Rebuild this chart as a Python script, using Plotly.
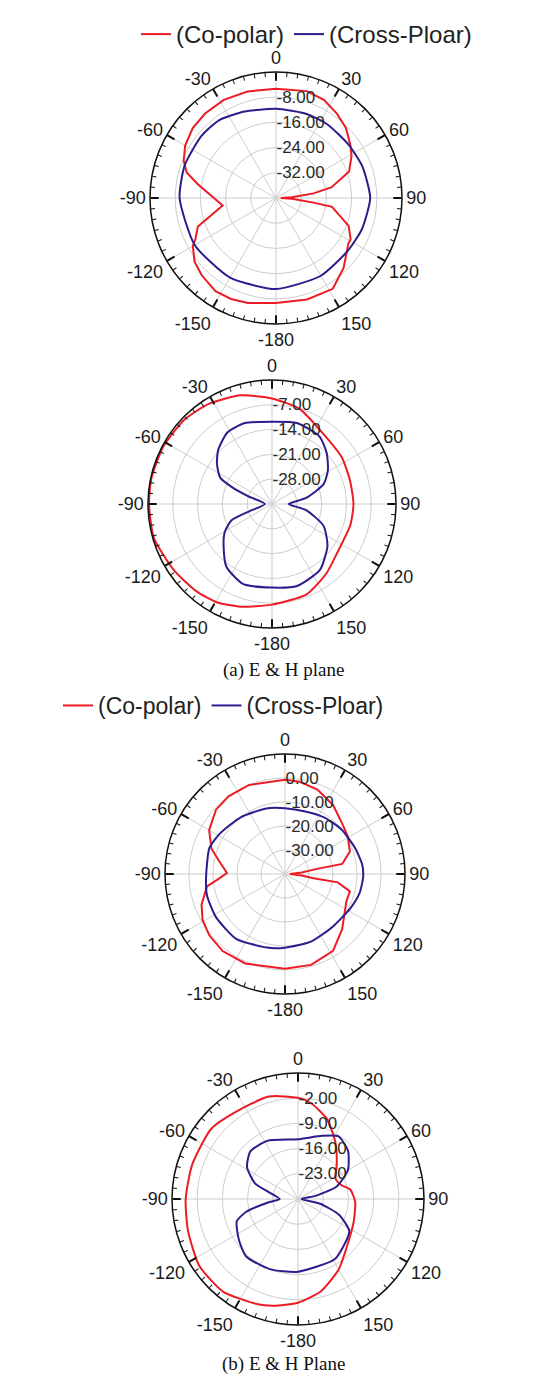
import plotly.graph_objects as go

# ---------------- data ----------------
angle_tickvals = [0, 30, 60, 90, 120, 150, 180, 210, 240, 270, 300, 330]
angle_ticktext = ["0", "30", "60", "90", "120", "150", "-180", "-150", "-120", "-90", "-60", "-30"]
minor_tickvals = [0, 5, 10, 15, 20, 25, 30, 35, 40, 45, 50, 55, 60, 65, 70, 75, 80, 85, 90, 95,
                  100, 105, 110, 115, 120, 125, 130, 135, 140, 145, 150, 155, 160, 165, 170, 175,
                  180, 185, 190, 195, 200, 205, 210, 215, 220, 225, 230, 235, 240, 245, 250, 255,
                  260, 265, 270, 275, 280, 285, 290, 295, 300, 305, 310, 315, 320, 325, 330, 335,
                  340, 345, 350, 355]

series_names = ["(Co-polar)", "(Cross-Ploar)"]

# Plot 1 (a, E plane)
p1_range = [-40, 0]
p1_ticks = [-8, -16, -24, -32]
p1_ticktext = ["-8.00", "-16.00", "-24.00", "-32.00"]
p1_co_theta = [-180, -165, -156, -147, -136, -128, -120, -117, -110, -98, -80, -74, -68, -60, -50, -40,
               -28, -15, 0, 16, 26, 36, 45, 55, 61, 70, 79, 83, 87, 90, 93, 97, 99, 111, 119, 122,
               136, 148, 163]
p1_co_db = [-6.7, -5.5, -4.9, -4.7, -6.0, -7.2, -9.5, -11.3, -13.6, -22.9, -14.8, -10.5, -8.4, -6.7,
            -5.5, -5.0, -4.7, -5.0, -5.3, -4.7, -5.3, -7.0, -8.6, -11.1, -12.6, -15.3, -22.0, -28.0,
            -35.0, -38.5, -35.0, -28.0, -22.0, -15.3, -12.9, -12.9, -9.1, -6.0, -6.3]
p1_cross_theta = [-180, -150, -120, -90, -70, -50, -36, -20, 0, 20, 35, 54, 70, 90, 110, 126, 150]
p1_cross_db = [-11.1, -10.8, -10.2, -9.4, -9.2, -9.2, -9.4, -10.8, -11.7, -11.6, -11.5, -11.4, -10.8,
               -10.1, -11.0, -11.7, -11.5]

# Plot 2 (a, H plane)
p2_range = [-35, 0]
p2_ticks = [-7, -14, -21, -28]
p2_ticktext = ["-7.00", "-14.00", "-21.00", "-28.00"]
p2_co_theta = [-180, -163, -151, -139, -124, -106, -90, -78, -62, -46, -32, -16, 0, 16, 32, 56, 73,
               90, 105, 127, 142, 159]
p2_co_db = [-6.6, -4.7, -3.2, -2.4, -1.6, -0.3, -0.3, -0.2, -0.3, -0.7, -1.6, -3.1, -5.2, -7.0,
            -10.0, -11.3, -12.0, -12.0, -12.1, -12.0, -10.1, -7.7]
p2_cross_theta = [-180, -160, -144, -131, -121, -112, -108, -90, -72, -67, -63, -54, -45, -32, -19, 0,
                  17, 35, 47, 59, 69, 80, 90, 100, 113, 127, 144, 163]
p2_cross_db = [-11.4, -11.0, -13.1, -16.9, -19.4, -22.6, -28.1, -33.0, -28.0, -22.6, -18.6, -15.8,
               -13.5, -11.2, -10.9, -11.8, -11.1, -11.7, -13.9, -16.6, -19.4, -25.2, -30.3, -25.2,
               -19.2, -15.4, -12.0, -10.8]

# Plot 3 (b, E plane)
p3_range = [-40, 10]
p3_ticks = [0, -10, -20, -30]
p3_ticktext = ["0.00", "-10.00", "-20.00", "-30.00"]
p3_co_theta = [-180, -156, -141, -129, -119, -110, -99, -95, -89, -79, -71, -60, -47, -36, -22, 0, 9,
               21, 35, 49, 59, 71, 80, 81, 85, 90, 95, 98.5, 99, 105, 114, 134, 148, 164]
p3_co_db = [-0.5, 0.8, 1.3, 0.6, -0.7, -3.0, -7.1, -11.6, -15.8, -12.1, -7.6, -3.5, -0.7, 0.0, 0.0,
            -0.7, -1.1, -2.3, -5.0, -8.3, -9.5, -11.4, -15.8, -27.0, -33.0, -38.0, -33.0, -28.0,
            -17.7, -12.0, -12.0, -6.9, -2.2, -0.6]
p3_cross_theta = [-180, -166, -143, -122, -105, -92, -71, -58, -38, -16, 0, 18, 35, 52, 70, 83, 92,
                  104, 117, 137, 159]
p3_cross_db = [-9.3, -8.4, -6.2, -6.1, -6.3, -7.1, -6.7, -8.1, -10.0, -11.6, -12.6, -12.6, -11.3,
               -10.0, -8.8, -7.6, -7.4, -7.9, -9.2, -10.4, -9.8]

# Plot 4 (b, H plane)
p4_range = [-30, 5]
p4_ticks = [-2, -9, -16, -23]
p4_ticktext = ["-2.00", "-9.00", "-16.00", "-23.00"]
p4_co_theta = [-180, -167, -159, -141, -124, -106, -90, -72, -51, -35, -16, 0, 8, 20, 33, 48, 61, 72,
               80, 93, 112, 132, 150, 166]
p4_co_db = [-1.2, 0.4, 1.3, 3.1, 3.1, 1.8, 1.2, 0.9, 1.0, -0.3, -0.4, -1.9, -3.2, -6.4, -11.0, -15.5,
            -18.1, -17.4, -15.2, -14.1, -13.3, -11.4, -7.4, -3.6]
p4_cross_theta = [-180, -158, -138, -125, -110, -104, -96, -90, -77, -70, -58, -45, -28, 0, 21, 33,
                  46, 60, 72, 80, 90, 102, 111, 122, 137, 149]
p4_cross_db = [-9.8, -9.0, -8.5, -10.0, -11.9, -15.1, -22.0, -24.9, -21.8, -17.3, -13.3, -11.3,
               -11.7, -13.4, -11.2, -9.3, -10.7, -14.0, -18.7, -25.0, -29.0, -23.7, -17.8, -13.2,
               -11.7, -10.4]

captions = ["(a) E & H plane", "(b) E & H Plane"]

# ---------------- styling / layout ----------------
W, H = 556, 1382
CO_COLOR = "#ec1c24"
CROSS_COLOR = "#2e1b8c"
FONT = "Liberation Sans, Arial, sans-serif"

plots = [
    dict(center=(268, 190), R=126, rng=p1_range, ticks=p1_ticks, ticktext=p1_ticktext,
         co=(p1_co_theta, p1_co_db), cross=(p1_cross_theta, p1_cross_db),
         legend="legend", co_shape="linear", cross_shape="spline"),
    dict(center=(264, 496), R=124, rng=p2_range, ticks=p2_ticks, ticktext=p2_ticktext,
         co=(p2_co_theta, p2_co_db), cross=(p2_cross_theta, p2_cross_db),
         legend=None, co_shape="spline", cross_shape="spline"),
    dict(center=(277, 866), R=120, rng=p3_range, ticks=p3_ticks, ticktext=p3_ticktext,
         co=(p3_co_theta, p3_co_db), cross=(p3_cross_theta, p3_cross_db),
         legend="legend2", co_shape="linear", cross_shape="spline"),
    dict(center=(290, 1191), R=126, rng=p4_range, ticks=p4_ticks, ticktext=p4_ticktext,
         co=(p4_co_theta, p4_co_db), cross=(p4_cross_theta, p4_cross_db),
         legend=None, co_shape="spline", cross_shape="spline"),
]


def closed(seq):
    return list(seq) + [seq[0]]


fig = go.Figure()
layout_polars = {}

for i, p in enumerate(plots):
    main = "polar" if i == 0 else f"polar{i + 1}"
    over = f"polar{i + 5}"
    cx, cy = p["center"]
    R = p["R"]
    dom = dict(x=[(cx - R) / W, (cx + R) / W], y=[1 - (cy + R) / H, 1 - (cy - R) / H])

    for key, color, shape, name in [("co", CO_COLOR, p["co_shape"], series_names[0]),
                                    ("cross", CROSS_COLOR, p["cross_shape"], series_names[1])]:
        th, rr = p[key]
        kw = dict(legend=p["legend"], showlegend=True) if p["legend"] else dict(showlegend=False)
        fig.add_trace(go.Scatterpolar(
            theta=closed(th), r=closed(rr), mode="lines", name=name,
            line=dict(color=color, width=2, shape=shape, smoothing=0.6),
            subplot=main, hoverinfo="skip", **kw))

    layout_polars[main] = dict(
        domain=dom, bgcolor="white",
        angularaxis=dict(rotation=90, direction="clockwise", tickmode="array",
                         tickvals=angle_tickvals, ticktext=angle_ticktext,
                         showline=True, linecolor="#111111", linewidth=1.5,
                         showgrid=True, gridcolor="#cdcdcd", gridwidth=1,
                         ticks="inside", ticklen=8, tickwidth=1.5, tickcolor="#111111",
                         tickfont=dict(family=FONT, size=18, color="#1a1a1a")),
        radialaxis=dict(range=p["rng"], angle=90, tickangle=90, tickmode="array",
                        tickvals=p["ticks"], ticktext=p["ticktext"], showline=False, ticks="",
                        showgrid=True, gridcolor="#cdcdcd", gridwidth=1,
                        tickfont=dict(family=FONT, size=17, color="#2a2a2a")),
    )
    # overlay polar that only carries the 5-degree minor ticks on the outer ring
    fig.add_trace(go.Scatterpolar(theta=[], r=[], subplot=over, showlegend=False, hoverinfo="skip"))
    layout_polars[over] = dict(
        domain=dom, bgcolor="rgba(0,0,0,0)",
        angularaxis=dict(rotation=90, direction="clockwise", tickmode="array",
                         tickvals=minor_tickvals, ticktext=[""] * len(minor_tickvals),
                         showline=False, showgrid=False, ticks="inside", ticklen=4,
                         tickwidth=1, tickcolor="#111111"),
        radialaxis=dict(visible=False, range=p["rng"]),
    )

fig.update_layout(
    width=W, height=H, margin=dict(l=0, r=0, t=0, b=0),
    paper_bgcolor="white", plot_bgcolor="white",
    font=dict(family=FONT, color="#222222"),
    legend=dict(orientation="h", x=128 / W, y=1 - 4 / H, xanchor="left", yanchor="top",
                font=dict(family=FONT, size=24, color="#222222"), bgcolor="rgba(0,0,0,0)"),
    legend2=dict(orientation="h", x=50 / W, y=1 - 676 / H, xanchor="left", yanchor="top",
                 font=dict(family=FONT, size=23, color="#222222"), bgcolor="rgba(0,0,0,0)"),
    annotations=[
        dict(text=captions[0], x=275 / W, y=1 - 662 / H, xref="paper", yref="paper",
             showarrow=False, font=dict(family="Liberation Serif, Times New Roman, serif",
                                        size=19, color="#111111")),
        dict(text=captions[1], x=275 / W, y=1 - 1369 / H, xref="paper", yref="paper",
             showarrow=False, font=dict(family="Liberation Serif, Times New Roman, serif",
                                        size=19, color="#111111")),
    ],
    **layout_polars,
)

fig.write_html("out.html")
